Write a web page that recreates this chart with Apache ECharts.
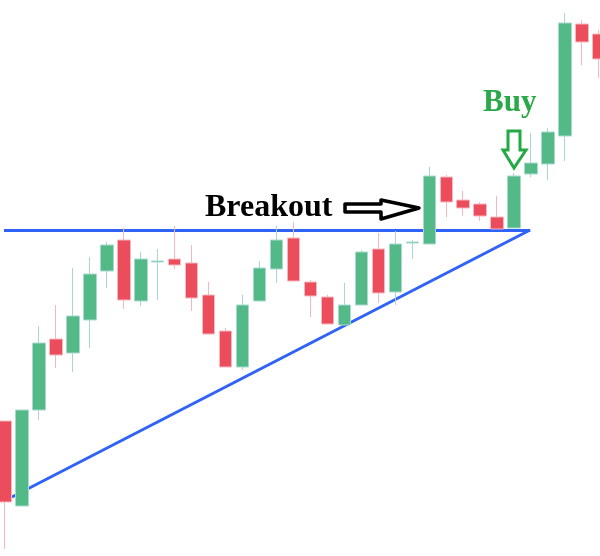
<!DOCTYPE html>
<html>
<head>
<meta charset="utf-8">
<script src="https://cdn.jsdelivr.net/npm/echarts@6/dist/echarts.min.js"></script>
<style>html,body{margin:0;padding:0;background:#fff}#c{width:600px;height:556px}</style>
</head>
<body>
<div id="c"></div>
<script>
// candle index labels (sessions)
const sessions = Array.from({length: 36}, (_, i) => 'D' + (i + 1));
// [open, close, low, high]
const opens  = [135, 50,146,217,203,236,285,316,255,294,297,293,261,225,189,255,287,318,274,259,231,251,307,264,313,312,379,356,352,339,328,382,392,420,532,522];
const closes = [ 54,146,213,201,240,282,311,256,297,295,291,258,222,189,251,288,316,275,260,232,251,304,263,312,314,380,354,348,340,327,380,393,424,533,514,497];
const lows   = [  7, 50,136,188,184,208,268,247,250,256,287,245,222,189,186,255,273,275,239,232,231,251,253,251,297,312,339,340,335,327,328,379,376,395,491,478];
const highs  = [135,146,230,251,288,299,314,328,304,307,330,311,274,228,261,295,330,334,276,261,273,306,323,325,316,389,381,365,354,360,383,423,428,543,536,526];
// trend lines: [session position, price]
const resistanceLine = [[-0.06, 325.5], [30.94, 325.5]];
const supportLine = [[0.41, 59], [30.94, 326]];

const candles = opens.map((o, i) => [o, closes[i], lows[i], highs[i]]);

const chart = echarts.init(document.getElementById('c'));
chart.setOption({
  animation: false,
  backgroundColor: '#ffffff',
  grid: {left: -3.5, width: 611, top: 0, bottom: 0, containLabel: false, outerBoundsMode: 'none'},
  xAxis: [
    {type: 'category', data: sessions, show: false, boundaryGap: true},
    {type: 'value', min: -0.5, max: 35.5, show: false}
  ],
  yAxis: {type: 'value', min: 0, max: 556, show: false, splitLine: {show: false}},
  series: [
    {
      type: 'line', xAxisIndex: 1, data: resistanceLine, symbol: 'none', z: 1,
      lineStyle: {color: '#2f62f6', width: 3}
    },
    {
      type: 'line', xAxisIndex: 1, data: supportLine, symbol: 'none', z: 1,
      lineStyle: {color: '#2f62f6', width: 3}
    },
    {
      type: 'candlestick', data: candles, barWidth: 13, z: 2,
      itemStyle: {
        color: '#53b987', color0: '#eb4d5c',
        borderColor: '#a9d8cf', borderColor0: '#f6b8c0', borderWidth: 1
      }
    }
  ],
  graphic: [
    {type: 'text', x: 205, y: 208, style: {text: 'Breakout', font: 'bold 32px "Liberation Serif", serif', fill: '#000', verticalAlign: 'middle'}},
    {type: 'polygon', shape: {points: [[345,204],[381,204],[381,200],[419,208],[381,219],[381,212],[345,212]]},
     style: {fill: '#fff', stroke: '#000', lineWidth: 3.5, lineJoin: 'round'}},
    {type: 'text', x: 483, y: 103, style: {text: 'Buy', font: 'bold 31px "Liberation Serif", serif', fill: '#2aa84a', verticalAlign: 'middle'}},
    {type: 'polygon', shape: {points: [[508,131],[520,131],[520,150],[526,150],[514,168],[503,150],[508,150]]},
     style: {fill: '#fff', stroke: '#22aa44', lineWidth: 3, lineJoin: 'miter'}}
  ]
});
</script>
</body>
</html>
